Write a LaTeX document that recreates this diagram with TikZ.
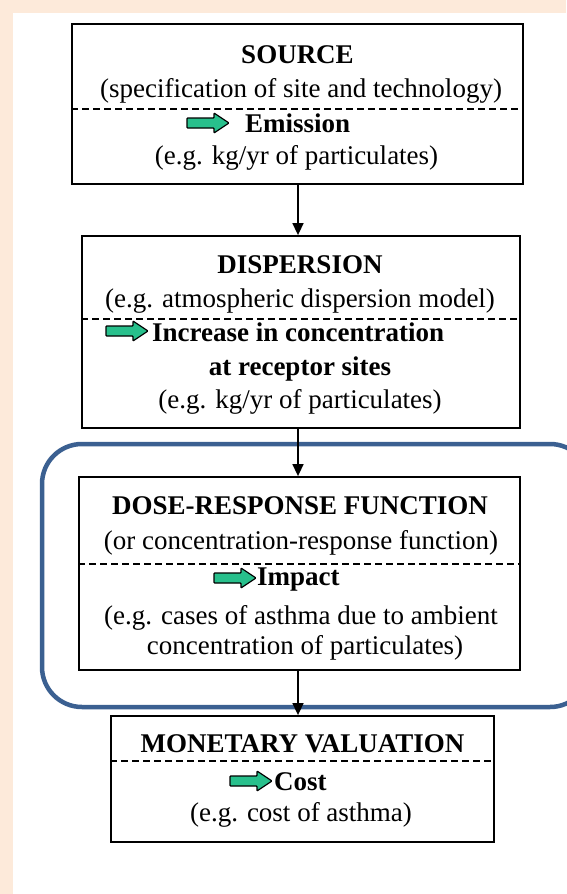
\documentclass[tikz,border=0pt]{standalone}
\usepackage{fontspec}
\setmainfont{Liberation Serif}
\usetikzlibrary{arrows.meta}
\definecolor{peach}{RGB}{253,234,218}
\definecolor{frameblue}{RGB}{59,96,145}
\definecolor{agreen}{RGB}{40,192,140}
\tikzset{
  box/.style={draw=black,line width=1.8pt,fill=white,inner sep=0pt},
  sepline/.style={line width=1.5pt,dash pattern=on 7pt off 4pt},
  txt/.style={inner sep=0pt,font=\fontsize{27}{32}\selectfont},
  btxt/.style={inner sep=0pt,font=\fontsize{27}{32}\selectfont\bfseries},
  conn/.style={line width=1.5pt,-{Triangle[length=12pt,width=11pt]}},
  pics/garrow/.style={code={
    \draw[fill=agreen,line width=1.2pt,rounded corners=0.8pt]
      (0,-5) -- (27,-5) -- (27,-10) -- (42,0) -- (27,10) -- (27,5) -- (0,5) -- cycle;}}
}
\begin{document}
\begin{tikzpicture}[x=1pt,y=-1pt]
\useasboundingbox (0,0) rectangle (566,894);
\fill[peach] (0,0) rectangle (566,894);
\fill[white] (13,13) rectangle (566,894);

% boxes
\node[box,minimum width=451pt,minimum height=160pt] (b1) at (297.5,104) {};
\node[box,minimum width=438pt,minimum height=192pt] (b2) at (301,332) {};
\node[box,minimum width=441pt,minimum height=193pt] (b3) at (299.5,573.5) {};
\node[box,minimum width=383pt,minimum height=126pt] (b4) at (302.5,779) {};

% highlight frame
\draw[frameblue,line width=4.5pt,rounded corners=40pt] (42,444) rectangle (590,707);

% dashed separators
\draw[sepline] (b1.west |- 0,109) -- (b1.east |- 0,109);
\draw[sepline] (b2.west |- 0,319) -- (b2.east |- 0,319);
\draw[sepline] (b3.west |- 0,564) -- (b3.east |- 0,564);
\draw[sepline] (b4.west |- 0,761) -- (b4.east |- 0,761);

% box 1
\node[btxt] (t11) at (297.5,55) {SOURCE};
\node[txt] (t12) at (301,91) {(specification of site and technology)};
\pic at (187,123) {garrow};
\node[btxt,anchor=west] (t13) at (245,123) {Emission};
\node[txt] (t14) at (296.5,158) {(e.g. kg/yr of particulates)};

% box 2
\node[btxt] (t21) at (300,265) {DISPERSION};
\node[txt] (t22) at (300,301) {(e.g. atmospheric dispersion model)};
\pic at (106,331) {garrow};
\node[btxt,anchor=west] (t23) at (152,332) {Increase in concentration};
\node[btxt] (t24) at (300,369) {at receptor sites};
\node[txt] (t25) at (300,402) {(e.g. kg/yr of particulates)};

% box 3
\node[btxt] (t31) at (300,506) {DOSE-RESPONSE FUNCTION};
\node[txt] (t32) at (301,543) {(or concentration-response function)};
\pic at (214,578) {garrow};
\node[btxt,anchor=west] (t33) at (257,580) {Impact};
\node[txt] (t34) at (301,618) {(e.g. cases of asthma due to ambient};
\node[txt] (t35) at (305,648) {concentration of particulates)};

% box 4
\node[btxt] (t41) at (302.5,744) {MONETARY VALUATION};
\pic at (230,781) {garrow};
\node[btxt,anchor=west] (t42) at (274,782) {Cost};
\node[txt] (t43) at (301,815) {(e.g. cost of asthma)};

% connectors
\coordinate (cx) at (298,0);
\draw[conn] (cx |- b1.south) -- (cx |- b2.north);
\draw[conn] (cx |- b2.south) -- (cx |- b3.north);
\draw[conn] (cx |- b3.south) -- (cx |- b4.north);
\end{tikzpicture}
\end{document}
